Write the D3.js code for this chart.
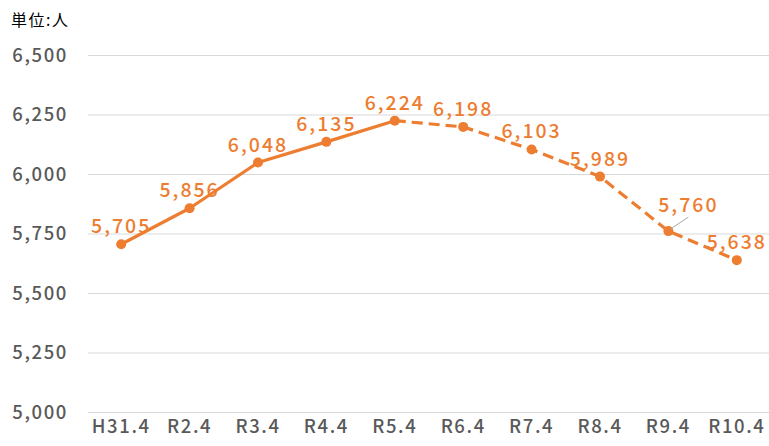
<!DOCTYPE html>
<html><head><meta charset="utf-8">
<script src="https://cdn.jsdelivr.net/npm/d3@7"></script>
<style>body{margin:0;background:#fff}svg{display:block}</style>
</head><body>
<svg id="c" width="769" height="446"></svg>
<script>
const categories = ["H31.4","R2.4","R3.4","R4.4","R5.4","R6.4","R7.4","R8.4","R9.4","R10.4"];
const values = [5705,5856,6048,6135,6224,6198,6103,5989,5760,5638];
const yTicks = [5000,5250,5500,5750,6000,6250,6500];
const dashedFrom = 4; // index where dashed (projection) starts
const unitLabel = "単位:人";

const svg = d3.select("#c");
const font = "'Noto Sans CJK JP','Noto Sans',sans-serif";
const orange = "#ED7D31";
const x = d3.scaleBand().domain(categories).range([87, 771]);
const y = d3.scaleLinear().domain([5000,6500]).range([412, 55]);
const cx = d => x(d) + x.bandwidth()/2;
const fmt = d3.format(",");

svg.append("text").attr("x",11).attr("y",26).attr("font-family",font).attr("font-size",16)
  .attr("letter-spacing","1.5px").attr("fill","#000").text(unitLabel);

const yAxis = d3.axisLeft(y).tickValues(yTicks).tickFormat(fmt).tickSize(-(771-88)).tickPadding(20);
const gy = svg.append("g").attr("transform","translate(88,0)").call(yAxis);
gy.select(".domain").remove();
gy.selectAll(".tick line").attr("stroke","#d9d9d9").attr("stroke-width",1);
gy.selectAll(".tick text").attr("font-family",font).attr("font-size",18.5).attr("font-weight",500)
  .attr("letter-spacing","1.6px").attr("fill","#595959").attr("dy","0.35em");

const xAxis = d3.axisBottom(x).tickSize(0).tickPadding(0);
const gx = svg.append("g").attr("transform","translate(0,427)").call(xAxis);
gx.select(".domain").remove();
gx.selectAll(".tick text").attr("font-family",font).attr("font-size",18.5).attr("font-weight",500)
  .attr("letter-spacing","1.6px").attr("fill","#595959").attr("dy","0.35em");

const pts = categories.map((c,i)=>({c, v: values[i], i}));
const line = d3.line().x(d=>cx(d.c)).y(d=>y(d.v));
svg.append("path").datum(pts.slice(0, dashedFrom+1)).attr("d", line)
  .attr("fill","none").attr("stroke",orange).attr("stroke-width",3.2).attr("stroke-linejoin","round");
svg.append("path").datum(pts.slice(dashedFrom)).attr("d", line)
  .attr("fill","none").attr("stroke",orange).attr("stroke-width",3.2).attr("stroke-dasharray","11,6");

svg.selectAll("circle.m").data(pts).join("circle").attr("class","m")
  .attr("cx",d=>cx(d.c)).attr("cy",d=>y(d.v)).attr("r",5).attr("fill",orange);

// label offsets (dx, dy from point to label baseline centre)
const labelOff = pts.map(d => d.i === 8 ? [20, -19] : [0, -11]);
const lo = labelOff[8];
svg.append("line").attr("x1",cx(categories[8])+2).attr("y1",y(values[8])-2)
  .attr("x2",cx(categories[8])+lo[0]).attr("y2",y(values[8])+lo[1]+5)
  .attr("stroke","#a6a6a6").attr("stroke-width",1);

svg.selectAll("text.lbl").data(pts).join("text").attr("class","lbl")
  .attr("x",d=>cx(d.c)+labelOff[d.i][0]).attr("y",d=>y(d.v)+labelOff[d.i][1])
  .attr("text-anchor","middle").attr("font-family",font).attr("font-size",19.5).attr("font-weight",500)
  .attr("letter-spacing","2px").attr("fill",orange).text(d=>fmt(d.v));
</script>
</body></html>
